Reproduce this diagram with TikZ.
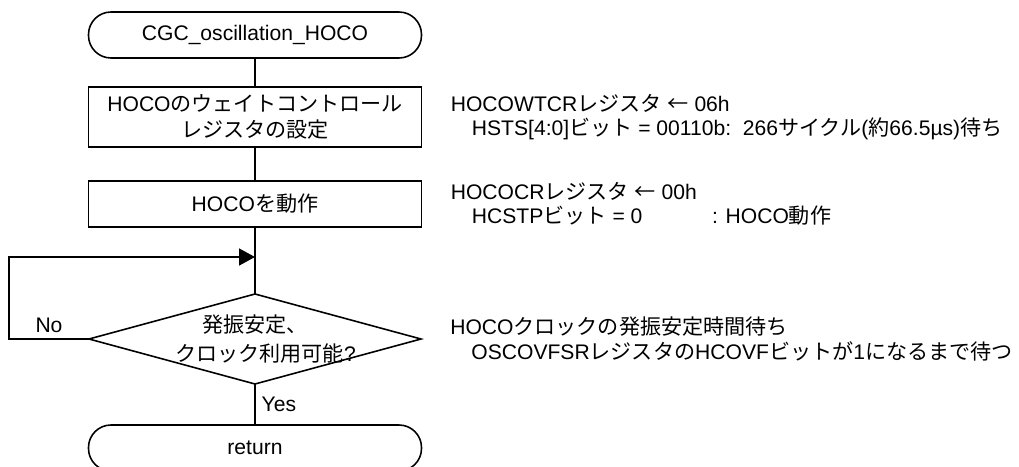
\documentclass[tikz,border=0pt]{standalone}
\usepackage{fontspec}
\setmainfont{Liberation Sans}
\newfontfamily\jpfont{Noto Sans CJK JP}
\newcommand{\jtext}[1]{{\jpfont #1}}
\usepackage{tikz}
\usetikzlibrary{shapes}
\usetikzlibrary{positioning}
\usetikzlibrary{arrows.meta}
\tikzstyle{main}     = [draw, line width=0.9pt, inner sep=0pt, outer sep=0pt, text centered, minimum width=6.66cm]
\tikzstyle{terminal} = [main, rounded corners=4.5mm, minimum height=0.92cm]
\tikzstyle{process}  = [main, minimum height=0.92cm, align=center, font=\fontsize{12pt}{14.8pt}\selectfont]
\tikzstyle{decision} = [main, diamond, minimum width=6.64cm, minimum height=1.8cm]
\tikzstyle{note}     = [inner sep=0pt, align=left, font=\fontsize{12pt}{14pt}\selectfont]
\tikzstyle{flow}     = [line width=0.9pt]

\begin{document}
\begin{tikzpicture}[font=\fontsize{12pt}{14pt}\selectfont]
     \useasboundingbox (0,0) rectangle (20.38,-9.32);
     \node[terminal] (start) at (5.1,-0.70) {CGC\_oscillation\_HOCO};
     \node[process, minimum height=1.2cm] (wait) at (5.1,-2.34)
       {HOCO\jtext{のウェイトコントロール}\\\jtext{レジスタの設定}};
     \node[process] (run) at (5.1,-4.08) {HOCO\jtext{を動作}};
     \node[decision] (stable) at (5.1,-6.78) {};
     \node[align=center, font=\fontsize{12pt}{16pt}\selectfont] (stabletext) at (stable.center)
       {\jtext{発振安定、}\\\hspace{1em}\jtext{クロック利用可能}?};
     \node[terminal] (stop) at (5.1,-8.96) {return};
     \coordinate (merge) at (5.1,-5.14);

     \node[note, right=0.58cm of wait] (waitnote)
       {HOCOWTCR\jtext{レジスタ} \jtext{←} 06h\\
        \jtext{　}HSTS[4:0]\jtext{ビット} = 00110b:\ \ 266\jtext{サイクル}(\jtext{約}66.5µs)\jtext{待ち}};
     \node[note, right=0.58cm of run] (runnote)
       {HOCOCR\jtext{レジスタ} \jtext{←} 00h\\
        \jtext{　}HCSTP\jtext{ビット} = 0\hspace{3.3em}: HOCO\jtext{動作}};
     \node[note, right=0.58cm of stable] (stablenote)
       {HOCO\jtext{クロックの発振安定時間待ち}\\
        \jtext{　}OSCOVFSR\jtext{レジスタの}HCOVF\jtext{ビットが}1\jtext{になるまで待つ}};

     \draw[flow] (start) -- (wait);
     \draw[flow] (wait) -- (run);
     \draw[flow] (run) -- (stable);
     \draw[flow] (stable) -- node[right] {Yes} (stop);
     \draw[flow, -{Triangle[length=3.2mm, width=3.4mm]}]
       (stable.west) -- node[above] {No} ++(-1.6,0) |- (merge);
\end{tikzpicture}
\end{document}
